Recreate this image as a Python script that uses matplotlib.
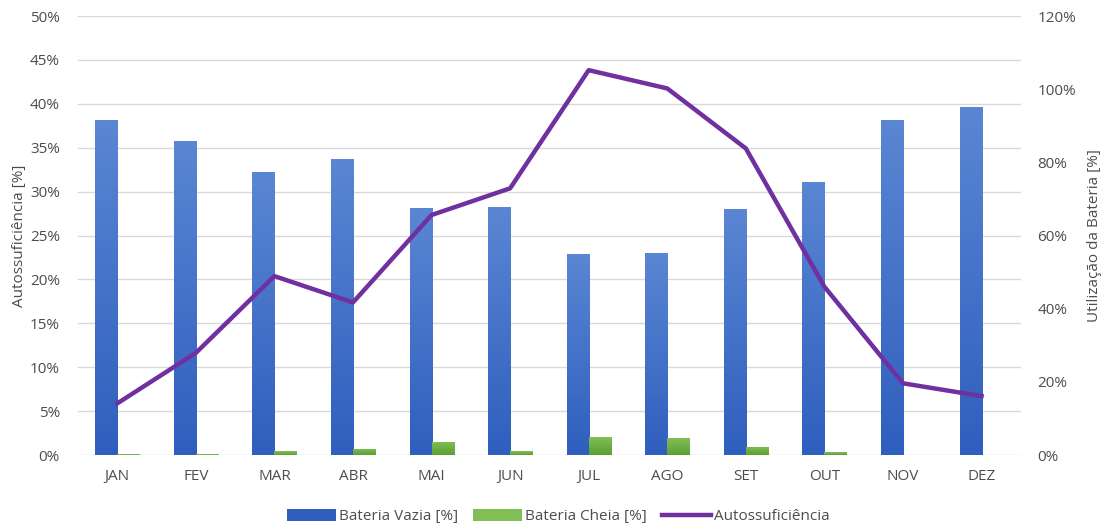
import matplotlib
matplotlib.use("Agg")
import matplotlib.pyplot as plt
import numpy as np
from matplotlib.lines import Line2D
from matplotlib.patches import Patch
from matplotlib.ticker import FuncFormatter, MultipleLocator

plt.rcParams['font.family'] = ['Open Sans', 'DejaVu Sans']

# dados mensais
meses = ['JAN', 'FEV', 'MAR', 'ABR', 'MAI', 'JUN', 'JUL', 'AGO', 'SET', 'OUT', 'NOV', 'DEZ']
bateria_vazia = [38.1, 35.8, 32.2, 33.7, 28.1, 28.2, 22.9, 23.0, 28.0, 31.1, 38.1, 39.6]
bateria_cheia = [0.1, 0.1, 0.4, 0.7, 1.5, 0.45, 2.05, 1.9, 0.95, 0.3, 0.0, 0.0]
autossuficiencia = [14.1, 27.9, 48.9, 41.7, 65.6, 72.9, 105.2, 100.2, 83.8, 46.0, 19.6, 16.1]

azul_claro, azul_escuro = '#5a86d3', '#2f5fbe'
verde_claro, verde_escuro = '#7fbf55', '#5d9e35'
roxo = '#7030a0'
cinza_txt = '#4d4d4d'
cinza_grade = '#d9d9d9'
fs = 11

fig = plt.figure(figsize=(11.06, 5.30), dpi=100)
ax = fig.add_axes([0.0705, 0.1415, 0.8525, 0.8283])
ax2 = ax.twinx()

x = np.arange(len(meses))
w = 0.28


def barras_degrade(ax, xs, hs, cor_topo, cor_base):
    # barras com preenchimento em degradê vertical (claro em cima)
    cmap = matplotlib.colors.LinearSegmentedColormap.from_list('g', [cor_base, cor_topo])
    grad = np.linspace(0, 1, 256).reshape(-1, 1)
    bars = ax.bar(xs, hs, w, color='none', edgecolor='none', zorder=2)
    for b in bars:
        h = b.get_height()
        if h <= 0:
            continue
        x0 = b.get_x()
        im = ax.imshow(grad, cmap=cmap, aspect='auto', origin='lower',
                       extent=[x0, x0 + b.get_width(), 0, h], zorder=2)
        im.set_clip_path(b)
    return bars


barras_degrade(ax, x - w / 2, bateria_vazia, azul_claro, azul_escuro)
barras_degrade(ax, x + w / 2, bateria_cheia, verde_claro, verde_escuro)

ax2.plot(x, autossuficiencia, color=roxo, lw=3.2, solid_joinstyle='round', zorder=3)

ax.set_xlim(-0.5, len(meses) - 0.5)
ax.set_ylim(0, 50)
ax2.set_ylim(0, 120)
ax.yaxis.set_major_locator(MultipleLocator(5))
ax2.yaxis.set_major_locator(MultipleLocator(20))
pct = FuncFormatter(lambda v, p: f'{v:.0f}%')
ax.yaxis.set_major_formatter(pct)
ax2.yaxis.set_major_formatter(pct)

ax.set_xticks(x)
ax.set_xticklabels(meses)
ax.grid(axis='y', color=cinza_grade, lw=1, zorder=0)
ax.set_axisbelow(True)

for a in (ax, ax2):
    for s in a.spines.values():
        s.set_visible(False)
    a.tick_params(length=0, labelsize=fs, colors=cinza_txt)
ax.tick_params(axis='y', pad=13)
ax.tick_params(axis='x', pad=10)
ax2.tick_params(axis='y', pad=12)

ax.set_ylabel('Autossuficiência [%]', fontsize=fs, color=cinza_txt, labelpad=2)
ax2.set_ylabel('Utilização da Bateria [%]', fontsize=fs, color=cinza_txt, labelpad=8)

handles = [Patch(facecolor=azul_escuro, label='Bateria Vazia [%]'),
           Patch(facecolor=verde_claro, label='Bateria Cheia [%]'),
           Line2D([0], [0], color=roxo, lw=3.2, label='Autossuficiência')]
leg = fig.legend(handles=handles, loc='center', bbox_to_anchor=(0.505, 0.025), ncol=3,
                 frameon=False, fontsize=fs, handlelength=3.2, handleheight=0.8,
                 handletextpad=0.2, columnspacing=1.0)
for t in leg.get_texts():
    t.set_color(cinza_txt)

fig.savefig('out.png', dpi=100)
